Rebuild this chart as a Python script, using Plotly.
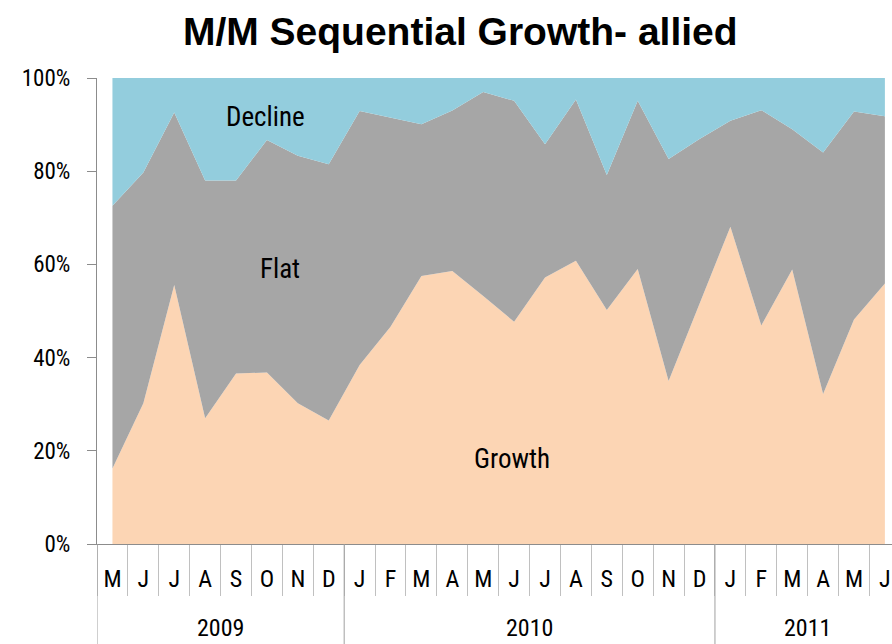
import plotly.graph_objects as go

months = ["M", "J", "J", "A", "S", "O", "N", "D",
          "J", "F", "M", "A", "M", "J", "J", "A", "S", "O", "N", "D",
          "J", "F", "M", "A", "M", "J"]
years = ["2009", "2010", "2011"]
year_counts = [8, 12, 6]
y_ticks = [0, 20, 40, 60, 80, 100]
y_tick_labels = ["0%", "20%", "40%", "60%", "80%", "100%"]

growth = [16.2, 30.2, 55.6, 27.0, 36.6, 36.8, 30.2, 26.5,
          38.4, 46.6, 57.5, 58.6, 53.2, 47.7, 57.2, 60.8, 50.2, 59.0, 35.0, 51.6,
          68.1, 46.9, 58.9, 32.2, 48.2, 55.9]
flat = [56.4, 49.5, 37.0, 51.0, 41.4, 49.9, 53.1, 55.0,
        54.5, 44.9, 32.6, 34.4, 43.8, 47.4, 28.6, 34.6, 29.0, 36.1, 47.6, 35.3,
        22.7, 46.2, 30.1, 51.8, 44.6, 35.9]
decline = [27.4, 20.3, 7.4, 22.0, 22.0, 13.3, 16.7, 18.5,
           7.1, 8.5, 9.9, 7.0, 3.0, 4.9, 14.2, 4.6, 20.8, 4.9, 17.4, 13.1,
           9.2, 6.9, 11.0, 16.0, 7.2, 8.2]

FONT = "Liberation Sans Narrow, Roboto Condensed, Arial Narrow, Liberation Sans, sans-serif"
x = list(range(len(months)))

fig = go.Figure()
for name, vals, col in [("Growth", growth, "#FCD5B4"),
                        ("Flat", flat, "#A6A6A6"),
                        ("Decline", decline, "#93CDDD")]:
    fig.add_trace(go.Scatter(x=x, y=vals, name=name, mode="lines",
                             stackgroup="one", groupnorm="percent",
                             line=dict(width=0, color=col), fillcolor=col,
                             hoverinfo="skip"))

# in-chart series labels
for name, xi, yv in [("Decline", 4.94, 91.6), ("Flat", 5.42, 59.0), ("Growth", 12.94, 18.2)]:
    fig.add_annotation(x=xi, y=yv, xref="x", yref="y", text=name, showarrow=False,
                       font=dict(family=FONT, size=27, color="#000"))

# year group labels and dividers
start = 0
plot_h = 466
for yr, n in zip(years, year_counts):
    fig.add_annotation(x=start + (n - 1) / 2, y=-84 / plot_h, xref="x", yref="paper",
                       text=yr, showarrow=False, yanchor="middle",
                       font=dict(family=FONT, size=24, color="#000"))
    fig.add_shape(type="line", xref="x", yref="paper", x0=start - 0.5, x1=start - 0.5,
                  y0=0, y1=-100 / plot_h, line=dict(color="#A0A0A0", width=1))
    start += n

fig.update_layout(
    width=892, height=644,
    margin=dict(l=97, r=0, t=78, b=100),
    paper_bgcolor="white", plot_bgcolor="white",
    showlegend=False,
    title=dict(text="<b>M/M Sequential Growth- allied</b>", x=0.516, xanchor="center",
               y=1 - 31 / 644, yanchor="middle",
               font=dict(family="Liberation Sans, Arial, sans-serif", size=39, color="#000")),
    xaxis=dict(range=[-0.5, 25.23], tickmode="array", tickvals=x, ticktext=months,
               ticks="outside", ticklen=13, tickcolor="rgba(0,0,0,0)",
               showline=True, linecolor="#8C8C8C", linewidth=1,
               showgrid=False, zeroline=False,
               tickfont=dict(family=FONT, size=24, color="#000"),
               minor=dict(tickmode="array", tickvals=[i - 0.5 for i in range(len(months) + 1)],
                          ticks="outside", ticklen=51, tickcolor="#C0C0C0", tickwidth=1,
                          showgrid=False)),
    yaxis=dict(range=[0, 100], tickmode="array", tickvals=y_ticks, ticktext=y_tick_labels,
               ticks="outside", ticklen=9, tickcolor="#8C8C8C",
               ticklabelstandoff=12,
               showline=True, linecolor="#8C8C8C", linewidth=1,
               showgrid=False, zeroline=False,
               tickfont=dict(family=FONT, size=23, color="#000")),
)

fig.write_html("out.html", config={"displayModeBar": False},
               post_script="document.body.style.margin='0';")
